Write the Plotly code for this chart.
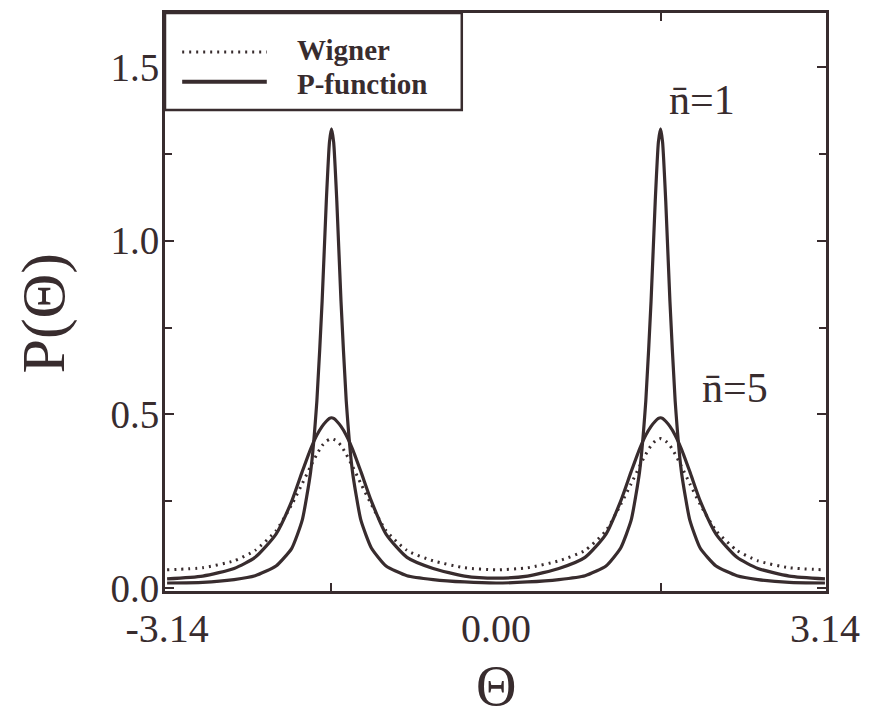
import plotly.graph_objects as go

# ---- data ----
theta = [-3.14, -2.8, -2.5, -2.3, -2.1, -1.95, -1.85, -1.77, -1.71, -1.66, -1.62, -1.59,
         -1.571, -1.55, -1.52, -1.48, -1.43, -1.37, -1.29, -1.19, -1.05, -0.85, -0.6, -0.3,
         0.0, 0.3, 0.6, 0.85, 1.05, 1.19, 1.29, 1.37, 1.43, 1.48, 1.52, 1.55, 1.571,
         1.59, 1.62, 1.66, 1.71, 1.77, 1.85, 1.95, 2.1, 2.3, 2.5, 2.8, 3.14]

p_n1 = [0.014, 0.016, 0.024, 0.035, 0.063, 0.114, 0.195, 0.334, 0.539, 0.826, 1.115, 1.284,
        1.322, 1.284, 1.115, 0.826, 0.539, 0.334, 0.195, 0.115, 0.063, 0.035, 0.024, 0.017,
        0.014, 0.017, 0.024, 0.035, 0.063, 0.115, 0.195, 0.334, 0.539, 0.826, 1.115, 1.284,
        1.322, 1.284, 1.115, 0.826, 0.539, 0.334, 0.195, 0.114, 0.063, 0.035, 0.024, 0.016, 0.014]

p_n5 = [0.026, 0.034, 0.056, 0.088, 0.155, 0.250, 0.335, 0.400, 0.440, 0.465, 0.480, 0.488,
        0.490, 0.488, 0.480, 0.465, 0.440, 0.400, 0.335, 0.250, 0.155, 0.088, 0.056, 0.034,
        0.028, 0.034, 0.056, 0.088, 0.155, 0.250, 0.335, 0.400, 0.440, 0.465, 0.480, 0.488,
        0.490, 0.488, 0.480, 0.465, 0.440, 0.400, 0.335, 0.250, 0.155, 0.088, 0.056, 0.034, 0.026]

w_n5 = [0.052, 0.058, 0.078, 0.108, 0.165, 0.240, 0.300, 0.350, 0.385, 0.410, 0.423, 0.428,
        0.430, 0.428, 0.423, 0.410, 0.385, 0.350, 0.300, 0.240, 0.165, 0.108, 0.078, 0.058,
        0.052, 0.058, 0.078, 0.108, 0.165, 0.240, 0.300, 0.350, 0.385, 0.410, 0.423, 0.428,
        0.430, 0.428, 0.423, 0.410, 0.385, 0.350, 0.300, 0.240, 0.165, 0.108, 0.078, 0.058, 0.052]

x_ticks = [-3.14, 0.0, 3.14]
x_ticktext = ["-3.14", "0.00", "3.14"]
x_minor = [-1.5708, 1.5708]
y_ticks = [0.0, 0.5, 1.0, 1.5]
y_ticktext = ["0.0", "0.5", "1.0", "1.5"]

INK = "#382c2e"
FONT = "Liberation Serif"

fig = go.Figure()
fig.add_trace(go.Scatter(x=theta, y=w_n5, mode="lines", showlegend=False,
                         line=dict(color=INK, width=3, dash="2px,5px", shape="spline", smoothing=0.6)))
fig.add_trace(go.Scatter(x=theta, y=p_n5, mode="lines", showlegend=False,
                         line=dict(color=INK, width=3.2, shape="spline", smoothing=0.6)))
fig.add_trace(go.Scatter(x=theta, y=p_n1, mode="lines", showlegend=False,
                         line=dict(color=INK, width=3.2, shape="spline", smoothing=0.5)))

# custom legend box
fig.add_shape(type="rect", xref="paper", yref="paper", x0=0, x1=0.449, y0=0.832, y1=1.0,
              line=dict(color=INK, width=2.5), fillcolor="white", layer="above")
fig.add_shape(type="line", xref="paper", yref="paper", x0=0.026, x1=0.154, y0=0.9325, y1=0.9325,
              line=dict(color=INK, width=3, dash="2px,5px"), layer="above")
fig.add_shape(type="line", xref="paper", yref="paper", x0=0.026, x1=0.154, y0=0.881, y1=0.881,
              line=dict(color=INK, width=4), layer="above")
fig.add_annotation(xref="paper", yref="paper", x=0.197, y=0.936, text="<b>Wigner</b>",
                   showarrow=False, xanchor="left", yanchor="middle",
                   font=dict(family=FONT, size=29, color=INK))
fig.add_annotation(xref="paper", yref="paper", x=0.197, y=0.877, text="<b>P-function</b>",
                   showarrow=False, xanchor="left", yanchor="middle",
                   font=dict(family=FONT, size=29, color=INK))

# curve labels
fig.add_annotation(x=1.97, y=1.405, text="n\u0304=1", showarrow=False,
                   font=dict(family=FONT, size=42, color=INK))
fig.add_annotation(x=2.28, y=0.575, text="n\u0304=5", showarrow=False,
                   font=dict(family=FONT, size=42, color=INK))

# axis titles
fig.add_annotation(xref="paper", yref="paper", x=-0.183, y=0.48, text="P(Θ)", textangle=-90,
                   showarrow=False, xanchor="center", yanchor="middle",
                   font=dict(family=FONT, size=62, color=INK))
fig.add_annotation(xref="paper", yref="paper", x=0.5, y=-0.165, text="Θ",
                   showarrow=False, xanchor="center", yanchor="middle",
                   font=dict(family=FONT, size=56, color=INK))

# page body has an 8px margin, so the figure is sized to fit the window
fig.update_layout(
    width=861, height=709,
    margin=dict(l=157, r=43, t=5, b=126),
    paper_bgcolor="white", plot_bgcolor="white",
    font=dict(family=FONT, color=INK),
    xaxis=dict(range=[-3.16, 3.15], tickvals=x_ticks, ticktext=x_ticktext, automargin=False,
               ticks="inside", ticklen=0, tickcolor=INK, showgrid=False, zeroline=False,
               showline=True, linecolor=INK, linewidth=3, mirror="ticks",
               tickfont=dict(family=FONT, size=40, color=INK), ticklabelstandoff=0,
               minor=dict(tickvals=x_minor, ticks="inside", ticklen=8, tickcolor=INK, tickwidth=1.5)),
    yaxis=dict(range=[-0.009, 1.656], tickvals=y_ticks, ticktext=y_ticktext, automargin=False,
               ticks="inside", ticklen=9, tickwidth=1.5, tickcolor=INK, showgrid=False, zeroline=False,
               showline=True, linecolor=INK, linewidth=3, mirror="ticks",
               tickfont=dict(family=FONT, size=39, color=INK), ticklabelstandoff=-5,
               minor=dict(dtick=0.25, tick0=0, ticks="inside", ticklen=7, tickcolor=INK, tickwidth=1.5)),
)

fig.write_html("out.html")
